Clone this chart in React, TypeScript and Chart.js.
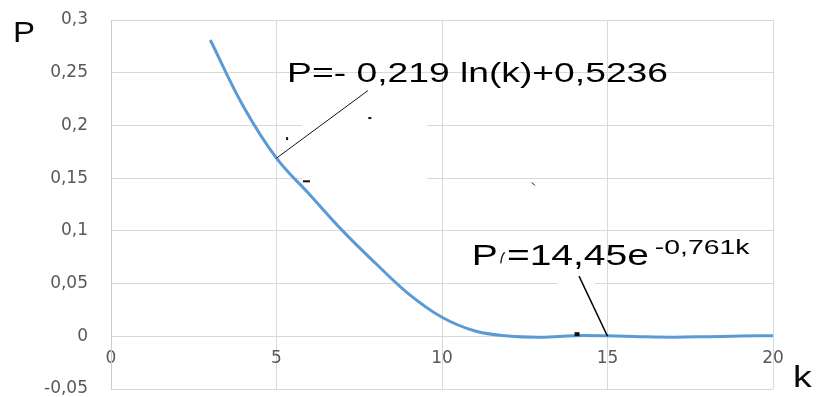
import React, { useEffect, useRef } from 'react';
import { Chart, registerables } from 'chart.js';

Chart.register(...registerables);

// ---- data ----
const kValues = [3, 4, 5, 6, 7, 8, 9, 10, 11, 12, 13, 14, 15, 16, 17, 18, 19, 20];
const pValues = [0.281, 0.218, 0.169, 0.1345, 0.1, 0.069, 0.04, 0.018, 0.005, 0.0003, -0.0008, 0.0006, 0.0004, -0.0004, -0.0008, -0.0004, 0.0002, 0.0006];
const xTickLabels = ['0', '5', '10', '15', '20'];
const yTickLabels = ['-0,05', '0', '0,05', '0,1', '0,15', '0,2', '0,25', '0,3'];
const logFormula = 'P=- 0,219 ln(k)+0,5236';
const expHead = 'P';
const expBody = '=14,45e';
const expPower = '-0,761k';
const yAxisTitle = 'P';
const xAxisTitle = 'k';

const SANS = "'Liberation Sans', Arial, sans-serif";

function drawStretched(ctx: CanvasRenderingContext2D, text: string, px: number, py: number, font: string, sx: number, color = '#000') {
  ctx.save();
  ctx.font = font;
  ctx.fillStyle = color;
  ctx.textAlign = 'left';
  ctx.textBaseline = 'alphabetic';
  ctx.translate(px, py);
  ctx.scale(sx, 1);
  ctx.fillText(text, 0, 0);
  ctx.restore();
}

const annotationPlugin = {
  id: 'trendAnnotations',
  beforeDatasetsDraw(chart: any) {
    const { ctx, scales } = chart;
    const x = scales.x, y = scales.y;
    ctx.save();
    ctx.fillStyle = '#ffffff';
    // white label backgrounds (as in the original trendline labels)
    const boxes = [
      { k1: 5.77, k2: 9.55, p1: 0.229, p2: 0.13 },
      { k1: 13.5, k2: 14.62, p1: 0.063, p2: 0.035 },
    ];
    for (const b of boxes) {
      const x1 = x.getPixelForValue(b.k1), x2 = x.getPixelForValue(b.k2);
      const y1 = y.getPixelForValue(b.p1), y2 = y.getPixelForValue(b.p2);
      ctx.fillRect(x1, y1, x2 - x1, y2 - y1);
    }
    ctx.restore();
  },
  afterDatasetsDraw(chart: any) {
    const { ctx, scales, chartArea } = chart;
    const x = scales.x, y = scales.y;
    const X = (k: number) => x.getPixelForValue(k);
    const Y = (p: number) => y.getPixelForValue(p);
    ctx.save();
    // leader line 1
    ctx.strokeStyle = '#111';
    ctx.lineWidth = 1;
    ctx.beginPath();
    ctx.moveTo(X(kValues[2]), Y(pValues[2]));
    ctx.lineTo(X(7.76), Y(0.233));
    ctx.stroke();
    // leader line 2
    ctx.lineWidth = 1.5;
    ctx.strokeStyle = '#000';
    ctx.beginPath();
    ctx.moveTo(X(14.14), Y(0.057));
    ctx.lineTo(X(15), Y(0));
    ctx.stroke();
    // small marks
    ctx.fillStyle = '#111';
    ctx.fillRect(X(5.32) - 1, Y(0.1875) - 1.5, 2, 3);
    ctx.fillRect(X(7.82) - 1.5, Y(0.207) - 1, 3, 2);
    ctx.fillRect(X(5.92) - 4, Y(0.147) - 1, 7, 2);
    ctx.fillRect(X(14.08) - 2.5, Y(0.002) - 2, 5, 4);
    ctx.lineWidth = 1;
    ctx.beginPath();
    ctx.moveTo(X(12.76) - 1.5, Y(0.1445) - 1.5);
    ctx.lineTo(X(12.76) + 1.5, Y(0.1445) + 1.5);
    ctx.stroke();
    ctx.restore();

    // formula 1
    drawStretched(ctx, logFormula, X(5.32), Y(0.2415), `28px ${SANS}`, 1.33);
    // formula 2
    drawStretched(ctx, expHead, X(10.9), Y(0.0672), `30px ${SANS}`, 1.3);
    ctx.save();
    ctx.strokeStyle = '#222';
    ctx.lineWidth = 1.4;
    ctx.beginPath();
    const mx = X(10.9) + 29, my = Y(0.0672);
    ctx.moveTo(mx, my - 2);
    ctx.quadraticCurveTo(mx + 1, my - 11, mx + 4, my - 13);
    ctx.stroke();
    ctx.restore();
    drawStretched(ctx, expBody, X(11.96), Y(0.0672), `30px ${SANS}`, 1.3);
    drawStretched(ctx, expPower, X(16.43), Y(0.0777), `20px ${SANS}`, 1.42);

    // axis titles
    drawStretched(ctx, yAxisTitle, chartArea.left - 98, chartArea.top + 22, `30px ${SANS}`, 1.1, '#0a0a0a');
    drawStretched(ctx, xAxisTitle, chartArea.right + 20, chartArea.bottom - 2, `30px ${SANS}`, 1.25, '#0a0a0a');
  },
};

export default function App() {
  const canvasRef = useRef<HTMLCanvasElement | null>(null);

  useEffect(() => {
    if (!canvasRef.current) return;
    const chart = new Chart(canvasRef.current, {
      type: 'line',
      data: {
        datasets: [
          {
            data: kValues.map((k, i) => ({ x: k, y: pValues[i] })),
            borderColor: '#5b9bd5',
            borderWidth: 3,
            pointRadius: 0,
            tension: 0.4,
            fill: false,
          },
        ],
      },
      options: {
        animation: false,
        responsive: false,
        devicePixelRatio: 1,
        layout: { padding: { left: 0, top: 20, right: 50, bottom: 8 } },
        plugins: { legend: { display: false }, tooltip: { enabled: false } },
        scales: {
          x: {
            type: 'linear',
            position: { y: 0 } as any,
            min: 0,
            max: 20,
            ticks: {
              stepSize: 5,
              padding: 12,
              color: '#595959',
              font: { family: "'DejaVu Sans'", size: 17 },
              callback: (_v: any, i: number) => xTickLabels[i],
            },
            grid: { color: '#d9d9d9', lineWidth: 1, drawTicks: false },
            border: { display: true, color: '#d9d9d9' },
            afterFit: (s: any) => {
              s.paddingLeft = 0;
              s.paddingRight = 0;
            },
          },
          y: {
            type: 'linear',
            min: -0.05,
            max: 0.3,
            ticks: {
              stepSize: 0.05,
              padding: 23,
              color: '#595959',
              font: { family: "'DejaVu Sans'", size: 17 },
              callback: (_v: any, i: number) => yTickLabels[i],
            },
            grid: { color: '#d9d9d9', lineWidth: 1, drawTicks: false },
            border: { display: true, color: '#cccccc' },
            afterFit: (s: any) => {
              s.width = 111;
              s.paddingTop = 0;
              s.paddingBottom = 0;
            },
          },
        },
      },
      plugins: [annotationPlugin],
    });
    return () => chart.destroy();
  }, []);

  return (
    <div style={{ position: 'absolute', left: 0, top: 0, width: 823, height: 397, background: '#fff' }}>
      <canvas ref={canvasRef} width={823} height={397} style={{ display: 'block' }} />
    </div>
  );
}
